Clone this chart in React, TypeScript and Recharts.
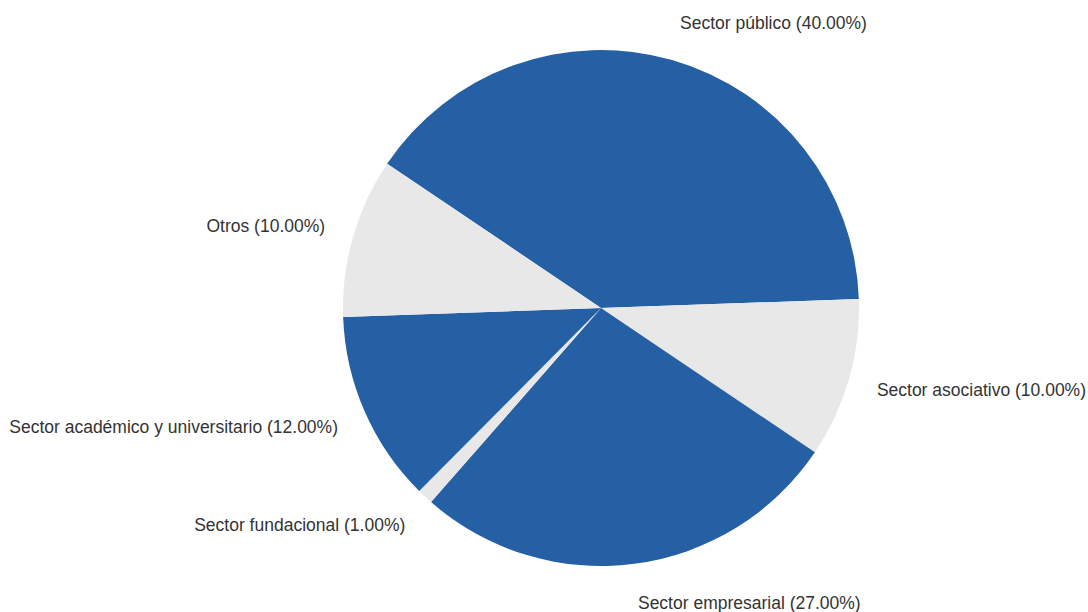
import { PieChart, Pie, Cell } from 'recharts';

const sectors = [
  'Sector público',
  'Sector asociativo',
  'Sector empresarial',
  'Sector fundacional',
  'Sector académico y universitario',
  'Otros',
];
const shares = [40, 10, 27, 1, 12, 10];
const colors = ['#2560a4', '#e8e8e8', '#2560a4', '#e8e8e8', '#2560a4', '#e8e8e8'];

const data = sectors.map((name, i) => ({ name, value: shares[i] }));

const RADIAN = Math.PI / 180;

function renderLabel(props: any) {
  const { cx, cy, midAngle, outerRadius, name, value } = props;
  const cos = Math.cos(-midAngle * RADIAN);
  const sin = Math.sin(-midAngle * RADIAN);
  const x = cx + (outerRadius + 29) * cos;
  const y = cy + (outerRadius + 39) * sin;
  return (
    <text
      x={x}
      y={y}
      fill="#333333"
      fontSize={17.5}
      fontFamily="Liberation Sans, Arial, sans-serif"
      textAnchor={cos >= 0 ? 'start' : 'end'}
      dominantBaseline="central"
    >
      {`${name} (${value.toFixed(2)}%)`}
    </text>
  );
}

export default function App() {
  return (
    <div style={{ position: 'absolute', left: 0, top: 0, width: 1088, height: 612, background: '#fff' }}>
      <PieChart width={1088} height={612} margin={{ top: 0, right: 0, bottom: 0, left: 0 }}>
        <Pie
          data={data}
          dataKey="value"
          nameKey="name"
          cx={601}
          cy={308}
          outerRadius={258}
          startAngle={146}
          endAngle={-214}
          stroke="none"
          labelLine={false}
          label={renderLabel}
          isAnimationActive={false}
        >
          {data.map((d, i) => (
            <Cell key={d.name} fill={colors[i]} />
          ))}
        </Pie>
      </PieChart>
    </div>
  );
}
